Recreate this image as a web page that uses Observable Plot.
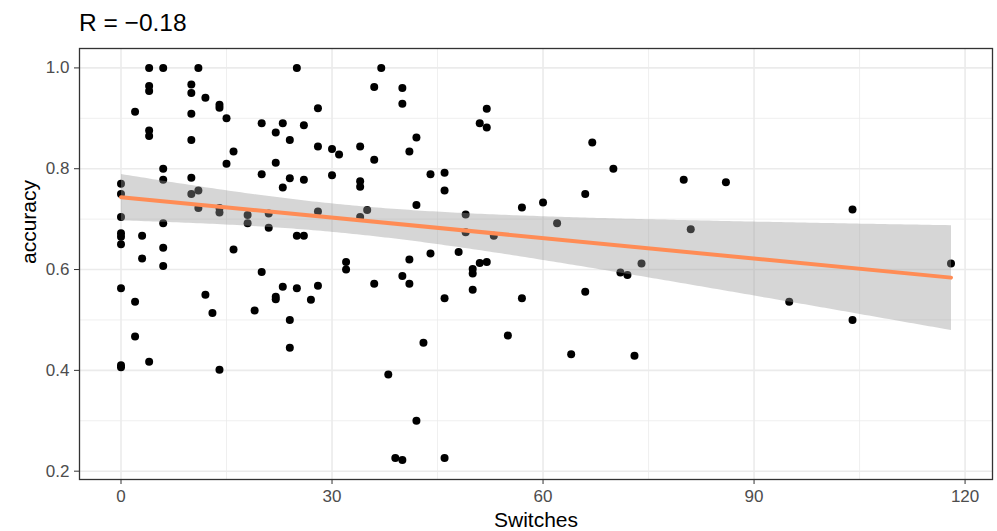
<!DOCTYPE html>
<html>
<head>
<meta charset="utf-8">
<script src="https://cdn.jsdelivr.net/npm/d3@7"></script>
<script src="https://cdn.jsdelivr.net/npm/@observablehq/plot@0.6"></script>
<style>
  html, body { margin: 0; padding: 0; background: #fff; }
  #chart { width: 997px; height: 531px; font-family: "Liberation Sans", Arial, sans-serif; }
  #title { height: 43px; box-sizing: border-box; padding-left: 79px; padding-top: 9.5px;
           font-size: 24.5px; line-height: 26px; color: #000; }
</style>
</head>
<body>
<div id="chart">
  <div id="title">R = −0.18</div>
</div>
<script>
// Number of switches per participant
const switches = [
  0, 0, 0, 0, 0, 0, 0, 0, 0,
  2, 2, 2,
  3, 3,
  4, 4, 4, 4, 4, 4,
  6, 6, 6, 6, 6, 6,
  10, 10, 10, 10, 10, 10,
  11, 11, 11,
  12, 12,
  13,
  14, 14, 14, 14, 14,
  15, 15,
  16, 16,
  18, 18,
  19,
  20, 20, 20,
  21, 21,
  22, 22, 22, 22,
  23, 23, 23,
  24, 24, 24, 24,
  25, 25, 25,
  26, 26, 26,
  27,
  28, 28, 28, 28,
  30, 30,
  31,
  32, 32,
  34, 34, 34, 34,
  35,
  36, 36, 36,
  37,
  38,
  39,
  40, 40, 40, 40,
  41, 41, 41,
  42, 42, 42,
  43,
  44, 44,
  46, 46, 46, 46,
  48,
  49, 49,
  50, 50, 50,
  51, 51,
  52, 52, 52,
  53,
  55,
  57, 57,
  60,
  62,
  64,
  66, 66,
  67,
  70,
  71,
  72,
  73,
  74,
  80,
  81,
  86,
  95,
  104, 104,
  118
];

// Accuracy for the same participants
const accuracy = [
  0.770, 0.750, 0.704, 0.672, 0.665, 0.650, 0.563, 0.410, 0.406,
  0.913, 0.536, 0.467,
  0.667, 0.622,
  1.000, 0.964, 0.954, 0.876, 0.865, 0.417,
  1.000, 0.800, 0.778, 0.692, 0.643, 0.607,
  0.967, 0.950, 0.909, 0.857, 0.782, 0.750,
  1.000, 0.757, 0.722,
  0.941, 0.550,
  0.514,
  0.927, 0.921, 0.722, 0.713, 0.401,
  0.900, 0.810,
  0.834, 0.640,
  0.708, 0.692,
  0.519,
  0.890, 0.789, 0.595,
  0.711, 0.683,
  0.872, 0.812, 0.546, 0.541,
  0.890, 0.763, 0.566,
  0.857, 0.781, 0.500, 0.445,
  1.000, 0.667, 0.563,
  0.886, 0.778, 0.667,
  0.540,
  0.920, 0.844, 0.715, 0.568,
  0.839, 0.787,
  0.828,
  0.615, 0.600,
  0.844, 0.775, 0.764, 0.704,
  0.718,
  0.962, 0.818, 0.572,
  1.000,
  0.392,
  0.226,
  0.960, 0.929, 0.587, 0.222,
  0.834, 0.620, 0.572,
  0.862, 0.728, 0.300,
  0.455,
  0.789, 0.632,
  0.792, 0.757, 0.543, 0.226,
  0.635,
  0.709, 0.674,
  0.601, 0.592, 0.560,
  0.890, 0.613,
  0.919, 0.882, 0.615,
  0.667,
  0.469,
  0.723, 0.543,
  0.733,
  0.692,
  0.432,
  0.750, 0.556,
  0.852,
  0.800,
  0.594,
  0.589,
  0.429,
  0.612,
  0.778,
  0.680,
  0.773,
  0.536,
  0.719, 0.500,
  0.612
];

const xTicks = [0, 30, 60, 90, 120];
const xMinor = [15, 45, 75, 105];
const yTicks = [0.2, 0.4, 0.6, 0.8, 1.0];
const yMinor = [0.3, 0.5, 0.7, 0.9];

const rows = switches.map((s, i) => ({switches: s, accuracy: accuracy[i]}));

const grid = "#ebebeb";

const chart = Plot.plot({
  width: 997,
  height: 488,
  marginTop: 5,
  marginRight: 5,
  marginBottom: 52,
  marginLeft: 79,
  style: {fontFamily: "'Liberation Sans', Arial, sans-serif", background: "#fff", overflow: "visible"},
  x: {domain: [-5.9, 123.9], label: null},
  y: {domain: [0.1835, 1.0385], label: null},
  marks: [
    Plot.ruleX(xMinor, {stroke: grid, strokeWidth: 0.8}),
    Plot.ruleY(yMinor, {stroke: grid, strokeWidth: 0.8}),
    Plot.ruleX(xTicks, {stroke: grid, strokeWidth: 1.6}),
    Plot.ruleY(yTicks, {stroke: grid, strokeWidth: 1.6}),
    Plot.dot(rows, {x: "switches", y: "accuracy", r: 4, fill: "#000", stroke: null}),
    Plot.linearRegressionY(rows, {
      x: "switches", y: "accuracy",
      stroke: "#FF8C55", strokeWidth: 4,
      fill: "#999999", fillOpacity: 0.4, ci: 0.95
    }),
    Plot.frame({stroke: "#333333", strokeWidth: 1.3}),
    Plot.axisX({ticks: xTicks, tickSize: 5, tickPadding: 5, fontSize: 17,
                stroke: "#333333", fill: "#4d4d4d", label: null}),
    Plot.axisY({ticks: yTicks, tickSize: 5, tickPadding: 5, fontSize: 17,
                tickFormat: d3.format(".1f"),
                stroke: "#333333", fill: "#4d4d4d", label: null}),
    Plot.text(["Switches"], {frameAnchor: "bottom", lineAnchor: "middle", dy: 40.5, fontSize: 21, fill: "#000"}),
    Plot.text(["accuracy"], {frameAnchor: "left", lineAnchor: "middle", rotate: -90, dx: -50.5, fontSize: 21, fill: "#000"})
  ]
});

document.getElementById("chart").appendChild(chart);
</script>
</body>
</html>
